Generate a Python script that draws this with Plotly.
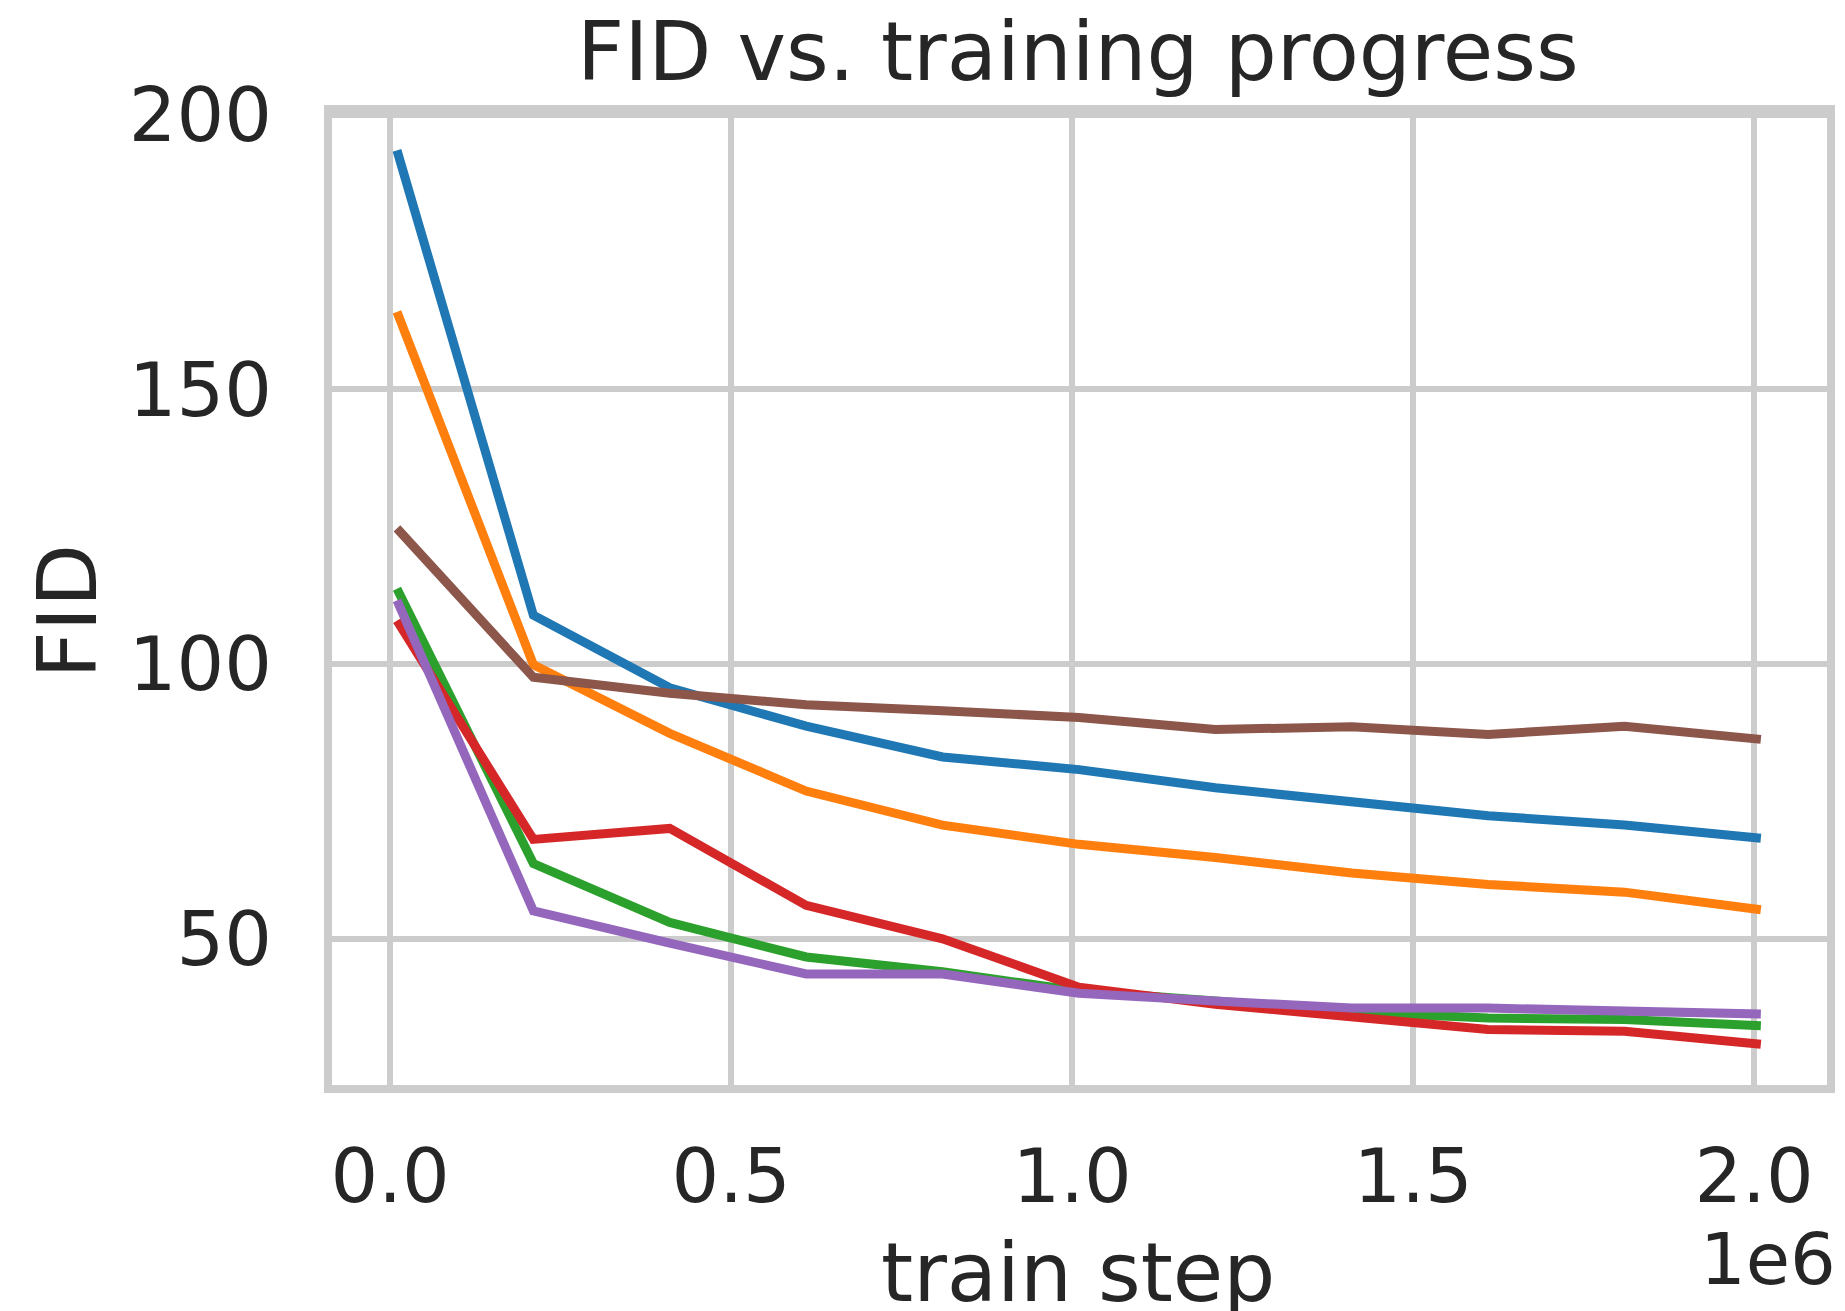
import plotly.graph_objects as go

# ---------------- data ----------------
steps = [10000, 210000, 410000, 610000, 810000, 1010000, 1210000, 1410000, 1610000, 1810000, 2010000]

series_blue = [193.5, 108.9, 95.7, 88.7, 83.1, 80.8, 77.5, 74.9, 72.4, 70.7, 68.3]
series_orange = [164.1, 99.9, 87.4, 76.9, 70.7, 67.2, 64.8, 62.0, 59.9, 58.5, 55.3]
series_green = [113.7, 63.7, 53.0, 46.7, 44.0, 40.5, 38.7, 36.7, 35.6, 35.3, 34.2]
series_red = [107.9, 68.1, 70.1, 56.1, 50.0, 41.2, 38.1, 35.6, 33.5, 33.2, 30.8]
series_purple = [111.6, 55.1, 49.2, 43.6, 43.6, 40.1, 38.7, 37.4, 37.4, 36.7, 36.3]
series_brown = [124.7, 97.6, 94.7, 92.6, 91.5, 90.3, 88.1, 88.6, 87.2, 88.7, 86.3]

x_tick_vals = [0, 500000, 1000000, 1500000, 2000000]
x_tick_text = ["0.0", "0.5", "1.0", "1.5", "2.0"]
y_tick_vals = [50, 100, 150, 200]
y_tick_text = ["50", "100", "150", "200"]

title_text = "FID vs. training progress"
x_label = "train step"
y_label = "FID"
offset_text = "1e6"

# ---------------- style ----------------
W, H = 1845, 1311
L, R, T, B = 332, 1835, 113, 1085
FONT = "DejaVu Sans"
TXT = "#262626"
GRID = "#cccccc"
FS_TICK = 75
FS_LABEL = 82

colors = ["#1f77b4", "#ff7f0e", "#2ca02c", "#d62728", "#9467bd", "#8c564b"]
all_series = [series_blue, series_orange, series_green, series_red, series_purple, series_brown]

fig = go.Figure()
for ys, c in zip(all_series, colors):
    fig.add_trace(go.Scatter(x=steps, y=ys, mode="lines",
                             line=dict(color=c, width=9),
                             showlegend=False, hoverinfo="skip"))


def px_to_paper(px, py):
    return (px - L) / (R - L), (B - py) / (B - T)


annots = []
for text, (px, py), ang, fs in [
    (title_text, (1082, 51), 0, FS_LABEL),
    (x_label, (1082, 1272), 0, FS_LABEL),
    (offset_text, (1776, 1259), 0, 72),
    (y_label, (66, 611), -90, FS_LABEL),
]:
    ax_, ay_ = px_to_paper(px, py)
    annots.append(dict(text=text, x=ax_, y=ay_, xref="paper", yref="paper",
                       xanchor="center", yanchor="middle", showarrow=False,
                       textangle=ang, font=dict(family=FONT, size=fs, color=TXT)))

fig.update_layout(
    width=W, height=H,
    margin=dict(l=L, r=W - R, t=T, b=H - B, pad=0),
    paper_bgcolor="white", plot_bgcolor="white",
    font=dict(family=FONT, size=FS_TICK, color=TXT),
    annotations=annots,
    showlegend=False,
)
fig.update_xaxes(range=[-85300, 2107000], tickvals=x_tick_vals, ticktext=x_tick_text,
                 showgrid=True, gridcolor=GRID, gridwidth=6,
                 showline=True, linecolor=GRID, linewidth=8, mirror=True,
                 zeroline=False, ticks="", ticklabelstandoff=19,
                 tickfont=dict(family=FONT, size=FS_TICK, color=TXT))
fig.update_yaxes(range=[23.4, 200.3], tickvals=y_tick_vals, ticktext=y_tick_text,
                 showgrid=True, gridcolor=GRID, gridwidth=6,
                 showline=True, linecolor=GRID, linewidth=8, mirror=True,
                 zeroline=False, ticks="", ticklabelstandoff=37,
                 tickfont=dict(family=FONT, size=FS_TICK, color=TXT))

fig.write_html("out.html",
               config={"displayModeBar": False},
               post_script="document.body.style.margin='0';document.body.style.padding='0';document.body.style.overflow='hidden';")
